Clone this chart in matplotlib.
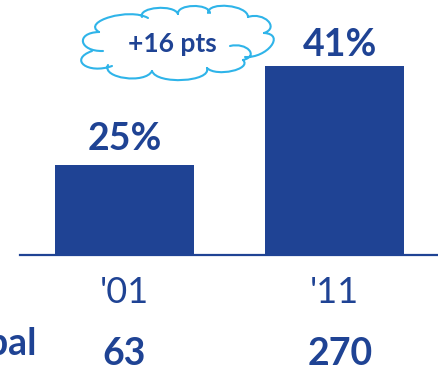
import matplotlib.pyplot as plt
from matplotlib.path import Path
from matplotlib.patches import PathPatch
from matplotlib.transforms import Affine2D, blended_transform_factory

years = ["'01", "'11"]
shares = [25, 41]
totals = [63, 270]
row_label = "Global"
change_label = "+16 pts"

NAVY = '#1F4394'
CYAN = '#2FB4E9'

# Label offsets from the bar centre / bar top, in points
label_shifts = [0, 4]
label_gaps = [6.5, 3]

# Cloud outline, one (start, middle, end) triple per lobe, in pixels from the top left
cloud_lobes = [
    ((103, 51), (83, 42), (99, 32)),
    ((99, 32), (110, 17), (148, 18)),
    ((142, 17), (157, 8), (178, 14)),
    ((178, 14), (193, 6), (210, 13)),
    ((208, 13), (228, 6), (248, 17)),
    ((248, 17), (268, 21), (264, 33)),
    ((264, 33), (271, 46), (245, 57)),
    ((230, 46), (249, 50), (243, 60)),
    ((243, 60), (232, 71), (207, 68)),
    ((207, 68), (183, 80), (152, 71)),
    ((152, 71), (125, 78), (108, 65)),
    ((112, 66), (84, 65), (92, 51)),
]


def cloud_path(lobes):
    verts = []
    codes = []
    for start, mid, end in lobes:
        # push both control points out so the curve passes through the middle point
        dx = 4 / 3 * (mid[0] - (start[0] + end[0]) / 2)
        dy = 4 / 3 * (mid[1] - (start[1] + end[1]) / 2)
        verts += [start, (start[0] + dx, start[1] + dy), (end[0] + dx, end[1] + dy), end]
        codes += [Path.MOVETO, Path.CURVE4, Path.CURVE4, Path.CURVE4]
    return Path(verts, codes)


def main():
    plt.rcParams['font.family'] = ['Lato', 'DejaVu Sans']

    fig = plt.figure(figsize=(4.39, 3.67), dpi=100)
    ax = fig.add_axes([20 / 439, (367 - 255) / 367, 419 / 439, 255 / 367])

    positions = range(len(years))
    ax.bar(positions, shares, width=0.662, color=NAVY, zorder=2)
    ax.set_xlim(-0.498, 1.498)
    ax.set_ylim(10.45, 51.65)

    for spine in ['top', 'left', 'right']:
        ax.spines[spine].set_visible(False)
    ax.spines['bottom'].set_color(NAVY)
    ax.spines['bottom'].set_linewidth(1.6)
    ax.set_yticks([])
    ax.set_xticks(list(positions))
    ax.set_xticklabels(years, fontsize=26, color=NAVY)
    ax.tick_params(axis='x', length=0, pad=15)

    total_trans = blended_transform_factory(ax.transData, fig.transFigure)
    for x, share, total, shift, gap in zip(positions, shares, totals, label_shifts, label_gaps):
        ax.annotate('%d%%' % share, xy=(x, share), xytext=(shift, gap), textcoords='offset points',
                    ha='center', va='bottom', fontsize=27, fontweight='bold', color=NAVY)
        ax.annotate(str(total), xy=(x, 1 - 365 / 367), xycoords=total_trans, xytext=(shift, 0),
                    textcoords='offset points', ha='center', va='baseline', fontsize=27,
                    fontweight='bold', color=NAVY, annotation_clip=False)

    # row heading runs off the left edge
    fig.text(37 / 439, 1 - 355 / 367, row_label, ha='right', va='baseline', fontsize=27,
             fontweight='bold', color=NAVY)

    to_fig = Affine2D().scale(1 / 439, -1 / 367).translate(0, 1) + fig.transFigure
    fig.add_artist(PathPatch(cloud_path(cloud_lobes), fill=False, edgecolor=CYAN, linewidth=1.5,
                             capstyle='round', transform=to_fig))
    fig.text(172 / 439, 1 - 44 / 367, change_label, ha='center', va='center', fontsize=19,
             fontweight='bold', color=NAVY)

    fig.savefig('out.png', dpi=100)


if __name__ == '__main__':
    main()
